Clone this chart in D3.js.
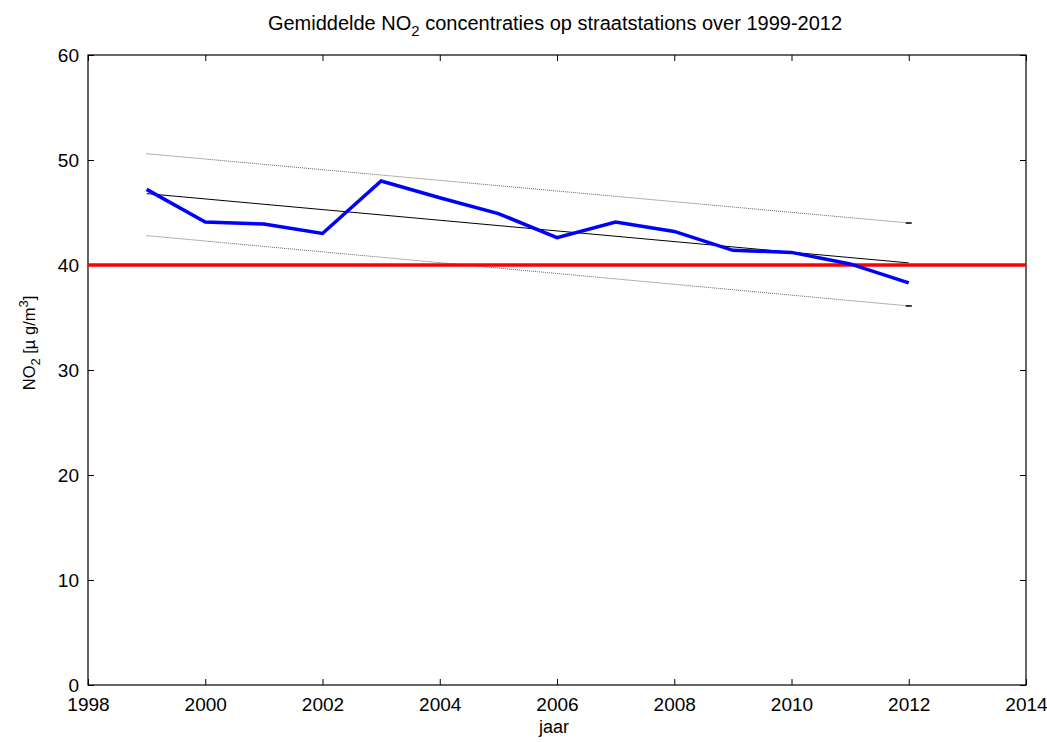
<!DOCTYPE html>
<html>
<head>
<meta charset="utf-8">
<script src="https://cdn.jsdelivr.net/npm/d3@7"></script>
<style>
  body { margin: 0; background: #fff; }
  text { font-family: "Liberation Sans", Arial, sans-serif; }
</style>
</head>
<body>
<div id="chart"></div>
<script>
// chart data
const years = [1999, 2000, 2001, 2002, 2003, 2004, 2005, 2006, 2007, 2008, 2009, 2010, 2011, 2012];
const no2 = [47.2, 44.1, 43.9, 43.0, 48.0, 46.4, 44.9, 42.6, 44.1, 43.2, 41.4, 41.2, 40.1, 38.3];
const trendYears = [1999, 2012];
const trend = [46.8, 40.2];
const upperBand = [50.6, 44.0];
const lowerBand = [42.8, 36.1];
const limitValue = 40;
const xTicks = [1998, 2000, 2002, 2004, 2006, 2008, 2010, 2012, 2014];
const yTicks = [0, 10, 20, 30, 40, 50, 60];

const width = 1047;
const height = 742;
const margin = {left: 88, right: 21, top: 55, bottom: 57};

const svg = d3.select("#chart")
  .append("svg")
  .attr("width", width)
  .attr("height", height);

const x = d3.scaleLinear()
  .domain([1998, 2014])
  .range([margin.left, width - margin.right]);

const y = d3.scaleLinear()
  .domain([0, 60])
  .range([height - margin.bottom, margin.top]);

// axes, matlab style: ticks inward on all four sides
const tickLen = 6;
svg.append("g")
  .attr("transform", `translate(0,${y(0)})`)
  .call(d3.axisBottom(x).tickValues(xTicks).tickFormat(d3.format("d")).tickSizeInner(-tickLen).tickSizeOuter(0).tickPadding(13))
  .call(g => g.select(".domain").remove())
  .attr("font-size", "19px");

svg.append("g")
  .attr("transform", `translate(0,${y(60)})`)
  .call(d3.axisTop(x).tickValues(xTicks).tickFormat("").tickSizeInner(-tickLen).tickSizeOuter(0))
  .call(g => g.select(".domain").remove());

svg.append("g")
  .attr("transform", `translate(${x(1998)},0)`)
  .call(d3.axisLeft(y).tickValues(yTicks).tickSizeInner(-tickLen).tickSizeOuter(0).tickPadding(9))
  .call(g => g.select(".domain").remove())
  .attr("font-size", "19px");

svg.append("g")
  .attr("transform", `translate(${x(2014)},0)`)
  .call(d3.axisRight(y).tickValues(yTicks).tickFormat("").tickSizeInner(-tickLen).tickSizeOuter(0))
  .call(g => g.select(".domain").remove());

svg.selectAll(".tick text").attr("fill", "#000");

// box
svg.append("rect")
  .attr("x", x(1998))
  .attr("y", y(60))
  .attr("width", x(2014) - x(1998))
  .attr("height", y(0) - y(60))
  .attr("fill", "none")
  .attr("stroke", "#000")
  .attr("stroke-width", 1.2);

const line = d3.line()
  .x(d => x(d[0]))
  .y(d => y(d[1]));

// confidence band lines
[upperBand, lowerBand].forEach(band => {
  svg.append("path")
    .datum(trendYears.map((t, i) => [t, band[i]]))
    .attr("d", line)
    .attr("fill", "none")
    .attr("stroke", "#666")
    .attr("stroke-width", 1)
    .attr("stroke-dasharray", "1,1");
  // little end marks at 2012
  svg.append("line")
    .attr("x1", x(trendYears[1]) - 3)
    .attr("x2", x(trendYears[1]) + 3)
    .attr("y1", y(band[1]))
    .attr("y2", y(band[1]))
    .attr("stroke", "#000")
    .attr("stroke-width", 1.5);
});

// trend line
svg.append("path")
  .datum(trendYears.map((t, i) => [t, trend[i]]))
  .attr("d", line)
  .attr("fill", "none")
  .attr("stroke", "#000")
  .attr("stroke-width", 1);

// limit value
svg.append("line")
  .attr("x1", x(1998))
  .attr("x2", x(2014))
  .attr("y1", y(limitValue))
  .attr("y2", y(limitValue))
  .attr("stroke", "#ff0000")
  .attr("stroke-width", 3.5);

// measurements
svg.append("path")
  .datum(years.map((yr, i) => [yr, no2[i]]))
  .attr("d", line)
  .attr("fill", "none")
  .attr("stroke", "#0000ff")
  .attr("stroke-width", 3.5)
  .attr("stroke-linejoin", "miter");

// title
const title = svg.append("text")
  .attr("x", 555)
  .attr("y", 30)
  .attr("text-anchor", "middle")
  .attr("font-size", "20px");
title.append("tspan").text("Gemiddelde NO");
title.append("tspan").attr("dy", 6).attr("font-size", "15px").text("2");
title.append("tspan").attr("dy", -6).text(" concentraties op straatstations over 1999-2012");

// x label
svg.append("text")
  .attr("x", 554)
  .attr("y", 733)
  .attr("text-anchor", "middle")
  .attr("font-size", "18px")
  .text("jaar");

// y label
const ylab = svg.append("text")
  .attr("transform", `translate(35,343) rotate(-90)`)
  .attr("text-anchor", "middle")
  .attr("font-size", "16.5px");
ylab.append("tspan").text("NO");
ylab.append("tspan").attr("dy", 5).attr("font-size", "13px").text("2");
ylab.append("tspan").attr("dy", -5).text(" [µ g/m");
ylab.append("tspan").attr("dy", -7).attr("font-size", "13px").text("3");
ylab.append("tspan").attr("dy", 7).text("]");
</script>
</body>
</html>
